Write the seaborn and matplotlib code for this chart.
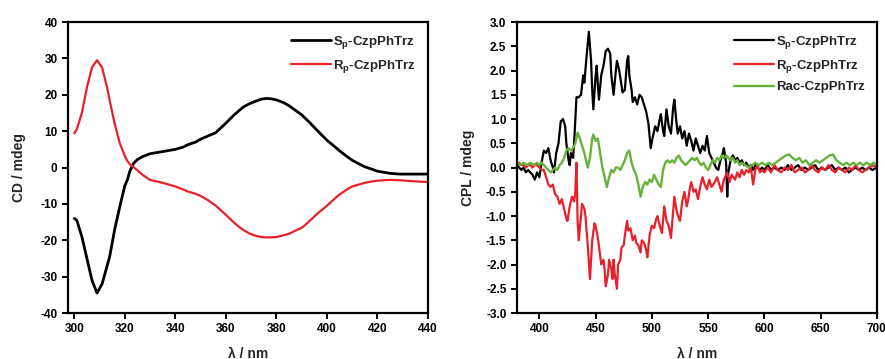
import numpy as np
import pandas as pd
import seaborn as sns
import matplotlib
matplotlib.use("Agg")
import matplotlib.pyplot as plt

# CD spectra (left panel)
cd_nm = [300, 301, 303, 305, 307, 309, 311, 313, 314, 316, 318, 320, 321, 322, 323.5, 325, 327, 330,
         335, 340, 343, 345, 348, 350, 353, 356, 360, 363, 365, 367, 369.5, 372, 374, 376, 378, 380,
         383, 385, 388, 390, 393, 396, 400, 403, 405, 408, 410, 413, 415, 418, 420, 425, 429, 435, 440]
cd_sp = [-14, -14.5, -19, -25, -31, -34.5, -32, -27, -24.5, -17, -10.8, -5, -3.4, -1, 1.2, 2.2, 3.0, 3.8,
         4.4, 5.0, 5.6, 6.3, 7.0, 7.8, 8.7, 9.6, 12.2, 14.3, 15.5, 16.7, 17.6, 18.3, 18.8, 19.0, 18.9, 18.6,
         17.8, 17.0, 15.5, 14.5, 12.5, 10.3, 7.5, 5.8, 4.6, 3.0, 2.0, 0.9, 0.2, -0.5, -1.0, -1.6, -1.8, -1.8, -1.8]
cd_rp = [9.4, 10.5, 15, 22, 27.5, 29.5, 27.5, 22, 18.5, 12, 6.7, 3.2, 1.8, 0.9, 0.1, -0.8, -2.0, -3.4,
         -4.2, -5.2, -6.0, -6.6, -7.2, -7.8, -9.0, -10.5, -13, -15.0, -16.2, -17.2, -18.2, -18.8, -19.1, -19.2, -19.2, -19.1,
         -18.6, -18.2, -17.2, -16.6, -14.8, -12.8, -10.5, -8.6, -7.4, -6.0, -5.2, -4.6, -4.2, -3.8, -3.6, -3.4, -3.5, -3.8, -4.0]

# CPL spectra (right panel)
sp_nm = [380, 382, 384, 386, 388, 390, 392, 394, 396, 398, 400, 402, 404, 406, 408, 410, 412, 413,
         415, 417, 419, 421, 423, 424, 426, 427, 428, 430, 431, 433, 435, 437, 439, 440, 442, 444,
         446, 447, 448, 450, 451, 452, 453, 455, 457, 459, 461, 463, 464, 466, 468, 469, 471, 473,
         474, 476, 478, 479, 480, 482, 483, 485, 487, 489, 491, 493, 495, 497, 499, 501, 503, 505,
         507, 508, 510, 511, 513, 515, 517, 519, 520, 522, 523, 525, 527, 529, 531, 533, 535, 537,
         539, 541, 543, 545, 547, 549, 551, 553, 555, 557, 559, 561, 563, 564, 566, 567, 568, 570,
         572, 574, 576, 578, 580, 582, 584, 586, 588, 590, 592, 594, 596, 598, 600, 603, 606, 609,
         612, 615, 618, 621, 624, 627, 630, 633, 636, 639, 642, 645, 648, 651, 654, 657, 660, 663,
         666, 669, 672, 675, 678, 681, 684, 687, 690, 693, 696, 700]
sp_val = [0.05, 0.0, -0.05, 0.0, -0.1, -0.05, -0.1, -0.15, -0.25, -0.1, -0.2, 0.1, 0.35, 0.3, 0.4, 0.15, 0.0, -0.1,
          0.3, 0.5, 0.95, 1.0, 0.85, 0.5, 0.15, 0.05, 0.3, 0.2, 0.55, 1.45, 1.45, 1.5, 1.9, 1.75, 2.3, 2.8,
          2.2, 1.6, 1.2, 1.9, 2.1, 1.7, 1.4, 1.9, 2.1, 2.4, 2.45, 2.35, 1.9, 1.5, 2.0, 2.2, 2.0, 1.7,
          1.55, 1.6, 2.2, 2.3, 1.9, 1.6, 1.35, 1.45, 1.3, 1.5, 1.45, 1.3, 1.15, 0.9, 0.4, 0.65, 0.85, 0.75,
          1.0, 1.1, 0.75, 0.65, 1.2, 0.85, 0.7, 1.25, 1.4, 0.9, 0.7, 0.85, 0.6, 0.75, 0.45, 0.7, 0.55, 0.35,
          0.6, 0.45, 0.3, 0.45, 0.35, 0.65, 0.3, 0.2, 0.1, 0.0, -0.05, 0.15, 0.3, 0.4, 0.1, -0.6, -0.1, 0.15,
          0.25, 0.15, 0.2, 0.1, 0.15, 0.05, 0.1, 0.0, 0.05, -0.05, 0.05, 0.0, -0.05, 0.0, -0.05, 0.05, -0.05, 0.0,
          -0.05, 0.0, -0.05, 0.05, -0.05, 0.0, 0.05, -0.05, 0.0, -0.05, 0.0, 0.05, -0.05, 0.0, -0.05, 0.0, 0.05, -0.05,
          0.0, -0.05, 0.0, -0.1, -0.05, 0.0, -0.05, 0.0, -0.05, 0.0, -0.05, 0.0]

rp_nm = [380, 382, 384, 386, 388, 390, 392, 394, 396, 398, 400, 402, 404, 406, 408, 410, 412, 414,
         416, 418, 420, 422, 424, 425, 427, 429, 431, 432, 433, 434, 435, 437, 438, 440, 441, 443,
         445, 446, 447, 449, 450, 452, 454, 455, 457, 458, 459, 461, 462, 464, 465, 466, 467, 469,
         470, 472, 473, 475, 476, 478, 479, 481, 483, 485, 486, 488, 490, 491, 493, 495, 496, 498,
         500, 502, 504, 505, 507, 509, 511, 513, 515, 517, 519, 520, 522, 524, 525, 527, 529, 531,
         532, 534, 535, 537, 539, 541, 543, 545, 547, 549, 551, 553, 556, 558, 560, 562, 564, 567,
         569, 571, 574, 576, 578, 580, 582, 584, 586, 588, 590, 592, 594, 596, 598, 600, 603, 606,
         609, 612, 615, 618, 621, 624, 627, 630, 633, 636, 639, 642, 645, 648, 651, 654, 657, 660,
         663, 666, 669, 672, 675, 678, 681, 684, 687, 690, 693, 696, 700]
rp_val = [0.05, 0.1, 0.05, 0.05, 0.0, 0.05, 0.05, 0.0, 0.05, 0.05, 0.0, -0.05, -0.05, -0.2, -0.35, -0.4, -0.35, -0.55,
          -0.6, -0.75, -0.65, -0.85, -1.05, -1.1, -0.8, -0.6, -0.7, -0.5, 0.1, -1.1, -1.5, -1.0, -0.75, -0.85, -1.0, -1.6,
          -2.3, -1.9, -1.5, -1.15, -1.2, -1.45, -1.8, -2.0, -1.9, -2.1, -2.45, -2.2, -1.9, -2.1, -2.3, -1.9, -2.2, -2.5,
          -2.0, -1.9, -1.65, -1.6, -1.4, -1.1, -1.3, -1.25, -1.5, -1.4, -1.55, -1.6, -1.75, -1.5, -1.55, -1.7, -1.85, -1.4,
          -1.2, -1.25, -1.05, -1.0, -1.2, -1.35, -0.8, -1.1, -1.2, -1.45, -0.9, -0.6, -0.9, -1.05, -1.1, -0.7, -0.5, -0.8,
          -0.7, -0.4, -0.3, -0.5, -0.45, -0.65, -0.4, -0.2, -0.35, -0.45, -0.25, -0.4, -0.3, -0.2, -0.35, -0.5, -0.25, -0.1,
          -0.3, -0.15, -0.25, -0.1, -0.2, -0.05, -0.15, -0.05, -0.1, 0.0, -0.35, -0.05, 0.05, -0.1, -0.05, -0.1, 0.0, -0.1,
          0.05, -0.05, -0.1, 0.0, -0.05, 0.05, -0.1, -0.05, 0.0, -0.1, -0.05, 0.05, -0.05, -0.1, 0.0, -0.05, 0.05, -0.05,
          -0.1, 0.0, -0.05, -0.1, 0.0, -0.05, 0.05, -0.05, -0.1, -0.05, 0.0, 0.05, 0.0]

rac_nm = [380, 383, 386, 389, 392, 395, 398, 400, 402, 404, 406, 408, 410, 412, 414, 416, 418, 420,
          422, 424, 426, 428, 430, 432, 434, 436, 438, 440, 442, 443, 445, 447, 448, 450, 452, 454,
          456, 458, 460, 462, 464, 466, 468, 470, 472, 474, 476, 478, 480, 482, 484, 486, 488, 490,
          492, 494, 496, 498, 500, 502, 504, 506, 508, 510, 512, 514, 516, 518, 520, 522, 524, 526,
          528, 530, 532, 534, 536, 538, 540, 542, 544, 546, 548, 550, 552, 554, 556, 558, 560, 562,
          564, 566, 568, 570, 572, 574, 576, 578, 580, 583, 586, 589, 592, 595, 598, 601, 604, 607,
          610, 613, 616, 619, 622, 625, 628, 631, 634, 637, 640, 643, 646, 649, 652, 655, 658, 661,
          664, 667, 670, 673, 676, 679, 682, 685, 688, 691, 694, 697, 700]
rac_val = [0.1, 0.05, 0.1, 0.05, 0.1, 0.05, 0.1, 0.05, 0.1, 0.05, 0.0, -0.05, -0.1, -0.05, 0.0, -0.05, 0.05, 0.1,
           0.2, 0.35, 0.4, 0.35, 0.4, 0.5, 0.72, 0.6, 0.45, 0.3, 0.1, 0.0, 0.2, 0.6, 0.68, 0.55, 0.6, 0.3,
           0.0, -0.2, -0.4, -0.2, -0.05, -0.1, 0.0, 0.0, -0.05, 0.05, 0.15, 0.3, 0.35, 0.1, -0.05, -0.15, -0.35, -0.6,
           -0.4, -0.3, -0.35, -0.25, -0.3, -0.15, -0.25, -0.35, -0.4, -0.05, 0.1, 0.15, 0.1, 0.15, 0.1, 0.2, 0.25, 0.15,
           0.1, 0.05, 0.1, 0.15, 0.2, 0.15, 0.2, 0.1, 0.05, 0.1, 0.0, -0.05, 0.05, 0.15, 0.1, 0.2, 0.15, 0.25,
           0.2, 0.25, 0.2, 0.15, 0.2, 0.1, 0.15, 0.05, 0.1, 0.05, 0.0, 0.05, 0.1, 0.05, 0.1, 0.05, 0.1, 0.05,
           0.1, 0.15, 0.2, 0.25, 0.27, 0.2, 0.15, 0.2, 0.1, 0.15, 0.05, 0.1, 0.15, 0.1, 0.15, 0.2, 0.25, 0.27,
           0.15, 0.1, 0.05, 0.1, 0.05, 0.1, 0.05, 0.1, 0.05, 0.1, 0.05, 0.1, 0.05]

sns.set_style("ticks")
plt.rcParams["font.family"] = ["Liberation Sans", "DejaVu Sans"]
plt.rcParams["font.weight"] = "bold"
plt.rcParams["axes.labelweight"] = "bold"
plt.rcParams["mathtext.fontset"] = "custom"
plt.rcParams["mathtext.rm"] = "Liberation Sans:bold"
plt.rcParams["axes.unicode_minus"] = False

fig = plt.figure(figsize=(8.85, 3.59), dpi=100)
ax1 = fig.add_axes([0.0768, 0.128, 0.4068, 0.8106])
ax2 = fig.add_axes([0.584, 0.128, 0.4068, 0.8106])

sns.lineplot(x=cd_nm, y=cd_sp, ax=ax1, color="black", lw=2.0, label=r"S$_{\rm p}$-CzpPhTrz", estimator=None)
sns.lineplot(x=cd_nm, y=cd_rp, ax=ax1, color="#e8202a", lw=1.6, label=r"R$_{\rm p}$-CzpPhTrz", estimator=None)

sns.lineplot(x=sp_nm, y=sp_val, ax=ax2, color="black", lw=1.6, label=r"S$_{\rm p}$-CzpPhTrz", estimator=None)
sns.lineplot(x=rp_nm, y=rp_val, ax=ax2, color="#e8202a", lw=1.6, label=r"R$_{\rm p}$-CzpPhTrz", estimator=None)
sns.lineplot(x=rac_nm, y=rac_val, ax=ax2, color="#66b23a", lw=1.7, label="Rac-CzpPhTrz", estimator=None)

ax1.set_xlim(297.5, 440)
ax1.set_ylim(-40, 40)
ax1.set_xticks(np.arange(300, 441, 20))
ax1.set_yticks(np.arange(-40, 41, 10))
ax1.set_xlabel("λ / nm", fontsize=10, labelpad=8)
ax1.set_ylabel("CD / mdeg", fontsize=10, labelpad=10)

ax2.set_xlim(380, 700)
ax2.set_ylim(-3, 3)
ax2.set_xticks(np.arange(400, 701, 50))
ax2.set_yticks(np.arange(-3, 3.01, 0.5))
ax2.set_yticklabels([f"{v:.1f}" for v in np.arange(-3, 3.01, 0.5)])
ax2.set_xlabel("λ / nm", fontsize=10, labelpad=8)
ax2.set_ylabel("CPL / mdeg", fontsize=10, labelpad=8)

for ax in (ax1, ax2):
    for s in ax.spines.values():
        s.set_linewidth(1.6)
        s.set_color("black")
    ax.tick_params(width=1.4, length=4, labelsize=8.5, colors="black")
    ax.legend(loc="upper right", frameon=False, fontsize=9.5, handlelength=3.0,
              handletextpad=0.2, borderaxespad=0.5)

fig.savefig("out.png", dpi=100)
